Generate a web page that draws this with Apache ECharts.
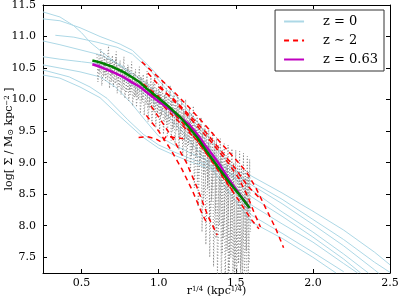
<!DOCTYPE html>
<html><head><meta charset="utf-8">
<script src="https://cdn.jsdelivr.net/npm/echarts@6/dist/echarts.min.js"></script>
<style>html,body{margin:0;padding:0;background:#fff}#c{width:399px;height:301px}</style>
</head><body><div id="c"></div>
<script>
// ---- data ----
const xTicks = [0.5, 1.0, 1.5, 2.0, 2.5];
const yTicks = [7.5, 8.0, 8.5, 9.0, 9.5, 10.0, 10.5, 11.0, 11.5];

// z = 0 profiles (light blue)
const blue1 = [[0.25,10.55],[0.36,10.5],[0.49,10.44],[0.62,10.36],[0.72,10.2],[0.82,9.95],[0.92,9.65],[1.0,9.42],[1.1,9.28],[1.2,9.16],[1.3,9.05],[1.46,8.9],[1.6,8.79],[1.8,8.52],[2.0,8.23],[2.2,7.93],[2.4,7.58],[2.5,7.38]];
const blue2 = [[0.25,10.47],[0.42,10.36],[0.555,10.2],[0.665,10.02],[0.8,9.68],[0.9,9.45],[1.0,9.28],[1.1,9.17],[1.2,9.07],[1.3,8.98],[1.46,8.84],[1.6,8.70],[1.8,8.42],[2.0,8.1],[2.2,7.78],[2.4,7.42],[2.5,7.26]];
const blue3 = [[0.25,10.39],[0.36,10.34],[0.49,10.2],[0.62,10.03],[0.75,9.73],[0.9,9.4],[1.0,9.23],[1.1,9.12],[1.2,9.02],[1.3,8.93],[1.46,8.8],[1.6,8.65],[1.8,8.35],[2.0,8.02],[2.2,7.68],[2.4,7.3],[2.43,7.24]];
const blue4 = [[0.25,11.39],[0.36,11.31],[0.45,11.17],[0.5,11.06],[0.555,10.91],[0.65,10.72],[0.77,10.5],[0.9,10.22],[1.0,10.0],[1.15,9.62],[1.3,9.2],[1.45,8.7],[1.6,8.17],[1.8,7.88],[2.0,7.58],[2.2,7.27]];
const blue5 = [[0.25,11.28],[0.36,11.25],[0.49,11.14],[0.62,11.0],[0.75,10.88],[0.83,10.78],[0.95,10.5],[1.1,10.1],[1.25,9.65],[1.4,9.15],[1.6,8.57],[1.8,8.22],[2.0,7.9],[2.2,7.55],[2.36,7.25]];
const blue6 = [[0.33,11.02],[0.45,10.99],[0.6,10.91],[0.73,10.83],[0.83,10.72],[0.95,10.45],[1.1,10.02],[1.25,9.55],[1.4,9.0],[1.6,8.46],[1.8,8.15],[2.0,7.82],[2.2,7.47],[2.31,7.25]];
const blue7 = [[0.25,10.93],[0.36,10.87],[0.49,10.79],[0.62,10.71],[0.75,10.55],[0.9,10.3],[1.05,9.95],[1.2,9.5],[1.4,8.9],[1.6,8.33],[1.8,8.03],[2.0,7.74],[2.2,7.4],[2.29,7.25]];
const blue8 = [[0.25,10.68],[0.36,10.64],[0.5,10.6],[0.6,10.57],[0.7,10.45],[0.85,10.2],[1.0,9.9],[1.15,9.5],[1.3,9.05],[1.45,8.55],[1.6,8.06],[1.8,7.8],[2.0,7.5],[2.15,7.25]];

// z ~ 2 profiles (red dashed)
const red1 = [[0.89,10.6],[1.0,10.35],[1.1,10.12],[1.2,9.87],[1.3,9.6],[1.4,9.32],[1.5,9.05],[1.57,8.85],[1.63,8.6],[1.7,8.25],[1.76,7.95],[1.81,7.65]];
const red2 = [[0.93,10.42],[1.05,10.1],[1.15,9.85],[1.25,9.58],[1.35,9.3],[1.45,9.0],[1.52,8.75],[1.58,8.45],[1.62,8.2],[1.66,7.98]];
const red3 = [[0.87,9.4],[0.93,9.41],[0.98,9.38],[1.02,9.32],[1.05,9.42],[1.1,9.4],[1.16,9.38]];
const red4 = [[0.95,9.9],[1.02,9.65],[1.1,9.35],[1.18,9.0],[1.25,8.6],[1.32,8.15],[1.38,7.85]];
const red5 = [[0.92,9.75],[1.0,9.5],[1.08,9.2],[1.15,8.9],[1.22,8.55],[1.28,8.2],[1.31,8.05]];
const red6 = [[0.95,10.1],[1.05,9.85],[1.15,9.6],[1.25,9.35],[1.35,9.0],[1.45,8.65],[1.52,8.4],[1.6,8.1],[1.65,7.95]];
const red7 = [[0.9,10.25],[1.0,10.05],[1.1,9.78],[1.2,9.5],[1.3,9.18],[1.4,8.85],[1.48,8.55]];
const red8 = [[1.0,10.2],[1.1,10.0],[1.2,9.75],[1.3,9.5],[1.4,9.2],[1.5,8.9],[1.58,8.62],[1.65,8.45]];

// z = 0.63 stacked profile (magenta) and companion (green)
const magentaLine = [[0.57,10.56],[0.62,10.52],[0.70,10.44],[0.77,10.36],[0.83,10.27],[0.88,10.2],[0.92,10.12],[1.0,9.97],[1.06,9.87],[1.14,9.72],[1.2,9.6],[1.25,9.45],[1.3,9.28],[1.35,9.12],[1.4,8.95],[1.46,8.72],[1.53,8.48],[1.59,8.28]];
const greenLine = [[0.57,10.62],[0.62,10.59],[0.70,10.52],[0.77,10.44],[0.83,10.35],[0.88,10.27],[0.92,10.18],[1.0,10.02],[1.06,9.9],[1.14,9.72],[1.2,9.55],[1.25,9.4],[1.3,9.22],[1.35,9.05],[1.4,8.88],[1.46,8.68],[1.53,8.47],[1.59,8.28]];

// individual noisy profiles (gray dotted): column x, top, bottom
const grayAX = [0.60,0.625,0.65,0.675,0.70,0.725,0.75,0.775,0.80,0.825,0.85,0.875,0.90,0.925,0.95,0.975,1.00,1.025,1.05,1.075,1.10,1.125,1.15,1.175,1.20,1.225,1.25,1.275,1.30,1.325,1.35,1.375,1.40,1.425,1.45,1.475,1.50,1.525,1.55,1.575,1.59];
const grayATop = [10.72,10.80,10.68,10.85,10.70,10.76,10.62,10.68,10.55,10.60,10.48,10.52,10.40,10.45,10.35,10.38,10.25,10.30,10.18,10.22,10.10,10.05,9.98,10.00,9.88,9.90,9.75,9.72,9.60,9.55,9.48,9.40,9.38,9.30,9.28,9.22,9.20,9.18,9.15,9.10,9.05];
const grayABot = [10.28,10.22,10.30,10.18,10.20,10.10,10.08,10.02,9.98,9.90,9.88,9.78,9.75,9.65,9.62,9.55,9.50,9.45,9.42,9.35,9.30,9.20,9.10,9.00,8.85,8.60,8.30,7.90,7.70,7.50,7.35,7.20,7.10,7.10,7.10,7.10,7.15,7.10,7.10,7.20,7.90];
const grayBX = [0.612,0.637,0.662,0.687,0.712,0.737,0.762,0.787,0.812,0.837,0.862,0.887,0.912,0.937,0.962,0.987,1.012,1.037,1.062,1.087,1.112,1.137,1.162,1.187,1.212,1.237,1.262,1.287,1.312,1.337,1.362,1.387,1.412,1.437,1.462,1.487,1.512,1.537,1.562,1.582];
const grayBTop = [10.70,10.62,10.66,10.64,10.60,10.55,10.52,10.50,10.45,10.42,10.38,10.35,10.30,10.25,10.20,10.18,10.12,10.08,10.05,9.98,9.95,9.90,9.85,9.80,9.78,9.70,9.62,9.55,9.50,9.42,9.35,9.28,9.20,9.12,9.05,9.00,8.95,8.92,8.90,8.85];
const grayBBot = [10.40,10.36,10.32,10.28,10.25,10.20,10.15,10.12,10.08,10.04,10.00,9.96,9.92,9.86,9.82,9.78,9.75,9.68,9.62,9.55,9.50,9.42,9.35,9.28,9.20,9.10,9.00,8.80,8.60,8.40,8.20,8.00,7.80,7.60,7.50,7.30,7.40,7.20,7.60,7.40];
const grayCX = [0.605,0.645,0.685,0.725,0.765,0.805,0.845,0.885,0.925,0.965,1.005,1.045,1.085,1.125,1.165,1.205,1.245,1.285,1.325,1.365,1.405,1.445,1.485,1.525,1.565];
const grayCTop = [10.62,10.74,10.58,10.66,10.48,10.52,10.42,10.36,10.30,10.28,10.15,10.10,10.02,9.92,9.80,9.70,9.58,9.45,9.32,9.22,9.15,9.05,8.95,8.80,8.75];
const grayCBot = [10.45,10.40,10.38,10.30,10.25,10.15,10.05,10.00,9.88,9.80,9.70,9.60,9.50,9.40,9.25,9.10,8.70,8.40,8.10,7.80,7.55,7.25,7.20,7.30,7.20];

// ---- build chart ----
function zig(xs, tops, bots, dx) {
  const out = [];
  for (let i = 0; i < xs.length; i++) { out.push([xs[i], tops[i]]); out.push([xs[i] + dx, bots[i]]); }
  return out;
}
const serif = 'DejaVu Serif';
const base = { type: 'line', showSymbol: false, symbol: 'none', silent: true, animation: false, clip: true };
const blues = [blue1, blue2, blue3, blue4, blue5, blue6, blue7, blue8];
const reds = [red1, red2, red3, red4, red5, red6, red7, red8];
const series = [];
blues.forEach(d => series.push(Object.assign({}, base, { name: 'z = 0', data: d, lineStyle: { color: '#add8e6', width: 1 }, itemStyle: { color: '#add8e6' } })));
const grayStyle = { color: '#888888', width: 1, type: [1, 2] };
series.push(Object.assign({}, base, { name: 'grayA', data: zig(grayAX, grayATop, grayABot, 0.006), lineStyle: grayStyle }));
series.push(Object.assign({}, base, { name: 'grayB', data: zig(grayBX, grayBTop, grayBBot, 0.006), lineStyle: grayStyle }));
series.push(Object.assign({}, base, { name: 'grayC', data: zig(grayCX, grayCTop, grayCBot, 0.006), lineStyle: grayStyle }));
reds.forEach(d => series.push(Object.assign({}, base, { name: 'z \u223c 2', data: d, lineStyle: { color: '#ff0000', width: 1.5, type: [5, 4] }, itemStyle: { color: '#ff0000' } })));
series.push(Object.assign({}, base, { name: 'z = 0.63', data: magentaLine, lineStyle: { color: '#bf00bf', width: 2.5 }, itemStyle: { color: '#bf00bf' } }));
series.push(Object.assign({}, base, { name: 'green', data: greenLine, lineStyle: { color: '#008000', width: 2.5 } }));

const tickStyle = { inside: true, length: 4, lineStyle: { color: '#000', width: 1 } };
const lineStyleAx = { show: true, onZero: false, lineStyle: { color: '#000', width: 1 } };
const chart = echarts.init(document.getElementById('c'), null, { renderer: 'canvas' });
chart.setOption({
  backgroundColor: '#fff',
  animation: false,
  grid: { left: 43, right: 9, top: 5, bottom: 28, containLabel: false, outerBoundsMode: 'none' },
  legend: {
    data: ['z = 0', 'z \u223c 2', 'z = 0.63'],
    orient: 'vertical', right: 15, top: 10,
    backgroundColor: '#fff', borderColor: '#333', borderWidth: 1, borderRadius: 0,
    padding: [5, 6, 5, 8], itemGap: 6, itemWidth: 20, itemHeight: 13,
    itemStyle: { opacity: 0 },
    textStyle: { fontFamily: serif, fontSize: 13, color: '#000', padding: [0, 0, 0, 14] },
    selectedMode: false
  },
  xAxis: [
    { type: 'value', min: 0.25, max: 2.5, position: 'bottom', axisLine: lineStyleAx,
      axisTick: Object.assign({ customValues: xTicks }, tickStyle),
      axisLabel: { customValues: xTicks, formatter: v => v.toFixed(1), fontFamily: serif, fontSize: 11, color: '#000', margin: 5 },
      splitLine: { show: false },
      name: 'r{s|1/4} (kpc{s|1/4})', nameLocation: 'middle', nameGap: 13, nameMoveOverlap: false,
      nameTextStyle: { fontFamily: serif, fontSize: 11, color: '#000', rich: { s: { fontFamily: serif, fontSize: 7, verticalAlign: 'top', color: '#000' } } } },
    { type: 'value', min: 0.25, max: 2.5, position: 'top', axisLine: lineStyleAx,
      axisTick: Object.assign({ customValues: xTicks }, tickStyle),
      axisLabel: { show: false }, splitLine: { show: false } }
  ],
  yAxis: [
    { type: 'value', min: 7.25, max: 11.5, position: 'left', axisLine: lineStyleAx,
      axisTick: Object.assign({ customValues: yTicks }, tickStyle),
      axisLabel: { customValues: yTicks, formatter: v => v.toFixed(1), fontFamily: serif, fontSize: 11, color: '#000', margin: 7 },
      splitLine: { show: false },
      name: 'log[ \u03a3 / M{sub|\u2299} kpc{sup|\u22122} ]', nameLocation: 'middle', nameGap: 28, nameRotate: 90, nameMoveOverlap: false,
      nameTextStyle: { fontFamily: serif, fontSize: 11, color: '#000',
        rich: { sub: { fontFamily: serif, fontSize: 8, verticalAlign: 'bottom', color: '#000' },
                sup: { fontFamily: serif, fontSize: 7, verticalAlign: 'top', color: '#000' } } } },
    { type: 'value', min: 7.25, max: 11.5, position: 'right', axisLine: lineStyleAx,
      axisTick: Object.assign({ customValues: yTicks }, tickStyle),
      axisLabel: { show: false }, splitLine: { show: false } }
  ],
  series: series
});
</script>
</body></html>
